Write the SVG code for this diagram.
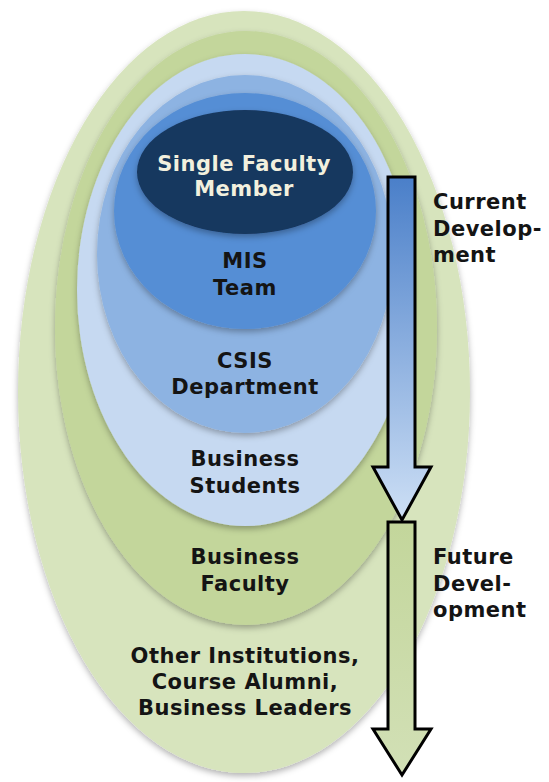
<svg xmlns="http://www.w3.org/2000/svg" width="549" height="782" viewBox="0 0 549 782">
<style>
.t{font-family:"DejaVu Sans",Verdana,sans-serif;font-weight:bold;font-size:21px;letter-spacing:0.5px;fill:#141414;text-anchor:middle}
.l{font-family:"DejaVu Sans",Verdana,sans-serif;font-weight:bold;font-size:21px;letter-spacing:0.5px;fill:#141414}
.w{fill:#f2f0de}
.arrow{stroke:#000;stroke-width:3;stroke-linejoin:miter}
</style>
<defs>
<filter id="sh" x="-10%" y="-10%" width="120%" height="120%">
<feDropShadow dx="0" dy="3" stdDeviation="3" flood-color="#000" flood-opacity="0.3"/>
</filter>
<linearGradient id="gb" x1="0" y1="0" x2="0" y2="1">
<stop offset="0" stop-color="#4a7fc9"/>
<stop offset="1" stop-color="#cddff5"/>
</linearGradient>
<linearGradient id="gg" x1="0" y1="0" x2="0" y2="1">
<stop offset="0" stop-color="#c3d69b"/>
<stop offset="1" stop-color="#d2e0b6"/>
</linearGradient>
</defs>
<rect width="549" height="782" fill="#fff"/>
<g id="n-outer"><ellipse cx="244" cy="392" rx="226" ry="381" fill="#d7e4bd" filter="url(#sh)"/>
<text class="t" x="245" y="663">Other Institutions,</text>
<text class="t" x="245" y="689">Course Alumni,</text>
<text class="t" x="245" y="715">Business Leaders</text></g>
<g id="n-bfaculty"><ellipse cx="246" cy="328" rx="191" ry="297" fill="#c3d69b" filter="url(#sh)"/>
<text class="t" x="245" y="564">Business</text>
<text class="t" x="245" y="591">Faculty</text></g>
<g id="n-students"><ellipse cx="245" cy="290" rx="168" ry="236" fill="#c6d9f1" filter="url(#sh)"/>
<text class="t" x="245" y="466">Business</text>
<text class="t" x="245" y="493">Students</text></g>
<g id="n-csis"><ellipse cx="245" cy="254" rx="148" ry="179" fill="#8db3e2" filter="url(#sh)"/>
<text class="t" x="245" y="368">CSIS</text>
<text class="t" x="245" y="394">Department</text></g>
<g id="n-mis"><ellipse cx="245" cy="211" rx="131" ry="118" fill="#558ed5" filter="url(#sh)"/>
<text class="t" x="245" y="268">MIS</text>
<text class="t" x="245" y="295">Team</text></g>
<g id="n-single"><ellipse cx="245" cy="172" rx="108" ry="62" fill="#17375e" filter="url(#sh)"/>
<text class="t w" x="244" y="171">Single Faculty</text>
<text class="t w" x="244" y="196">Member</text></g>
<g id="connectors">
<path class="arrow" fill="url(#gb)" d="M388,177 L415,177 L415,467 L431,467 L402,520 L373,467 L388,467 Z"/>
<path class="arrow" fill="url(#gg)" d="M388,522 L415,522 L415,729 L431,729 L402,775 L373,729 L388,729 Z"/>
</g>
<g id="labels">
<text class="l" x="433" y="209">Current</text>
<text class="l" x="433" y="236">Develop-</text>
<text class="l" x="433" y="262">ment</text>
<text class="l" x="433" y="564">Future</text>
<text class="l" x="433" y="591">Devel-</text>
<text class="l" x="433" y="617">opment</text>
</g>
</svg>
